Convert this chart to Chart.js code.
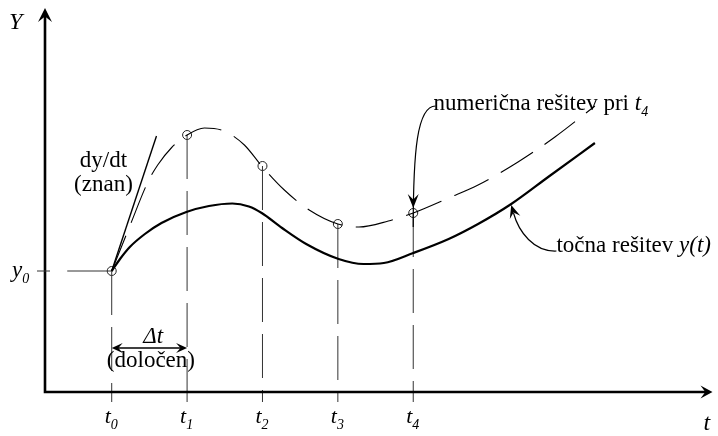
<!DOCTYPE html>
<html>
<head>
<meta charset="utf-8">
<script src="https://cdn.jsdelivr.net/npm/chart.js@4"></script>
<style>
  body { margin: 0; background: #fff; }
  canvas { display: block; }
</style>
</head>
<body>
<canvas id="myChart" width="718" height="436"></canvas>
<script>
// time steps t0..t4 (x in units of Δt)
const tickPos = [0, 1, 2, 3, 4]
const tickSub = ['0', '1', '2', '3', '4']

// numerical solution at the nodes
const nodeY = [12.1, 25.7, 22.6, 16.8, 17.9]

// exact solution y(t)
const exactT = [0, 0.11, 0.24, 0.44, 0.66, 0.99, 1.29, 1.6, 1.82, 1.99, 2.26, 2.58, 3.01, 3.34, 3.61, 4.0, 4.47, 4.86, 5.3, 5.79, 6.41]
const exactY = [12.1, 13.3, 14.5, 15.8, 16.9, 18.0, 18.6, 18.85, 18.55, 17.9, 16.4, 14.8, 13.3, 12.8, 12.9, 13.9, 15.3, 16.8, 18.8, 21.5, 24.9]

// numerical solution curve (dashed)
const numT = [0, 0.24, 0.48, 0.61, 0.79, 1.0, 1.23, 1.49, 1.76, 1.99, 2.29, 2.62, 3.0, 3.28, 3.67, 4.0, 4.47, 4.86, 5.39, 5.88, 6.41]
const numY = [12.1, 16.6, 21.0, 22.7, 24.4, 25.7, 26.4, 26.1, 24.7, 22.6, 20.2, 18.2, 16.8, 16.5, 17.1, 17.9, 19.4, 20.7, 23.0, 25.5, 28.6]

// tangent dy/dt at t0
const tangentT = [0, 0.594]
const tangentY = [12.1, 25.6]

// y0 guide line (t0 back towards the y axis) and bottom of drop lines
const y0LineT = [0, -0.59]
const dropBottom = -1.0

const serif = '"Liberation Serif", "Times New Roman", serif'

function pts(xs, ys) {
    return xs.map((v, i) => ({ x: v, y: ys[i] }))
}

function arrowHead(ctx, tx, ty, ang, len, hw) {
    ctx.save()
    ctx.translate(tx, ty)
    ctx.rotate(ang)
    ctx.beginPath()
    ctx.moveTo(0, 0)
    ctx.lineTo(-len, -hw)
    ctx.lineTo(-len * 0.6, 0)
    ctx.lineTo(-len, hw)
    ctx.closePath()
    ctx.fill()
    ctx.restore()
}

function subText(ctx, base, sub, x, y, size, italicSub) {
    ctx.font = 'italic ' + size + 'px ' + serif
    ctx.fillText(base, x, y)
    const w = ctx.measureText(base).width
    ctx.font = (italicSub ? 'italic ' : '') + Math.round(size * 0.62) + 'px ' + serif
    ctx.fillText(sub, x + w, y + size * 0.25)
    return w + ctx.measureText(sub).width
}

const drawing = {
    id: 'drawing',
    afterDraw(chart) {
        const ctx = chart.ctx
        const sx = chart.scales.x
        const sy = chart.scales.y
        const X = v => sx.getPixelForValue(v)
        const Y = v => sy.getPixelForValue(v)
        const ox = X(sx.min), oy = Y(0)

        ctx.save()
        ctx.fillStyle = '#000'
        ctx.strokeStyle = '#000'

        // axes
        ctx.lineWidth = 2.6
        ctx.beginPath()
        ctx.moveTo(ox - 1.3, oy)
        ctx.lineTo(X(sx.max) - 6, oy)
        ctx.moveTo(ox, oy + 1.3)
        ctx.lineTo(ox, Y(sy.max) + 6)
        ctx.stroke()
        arrowHead(ctx, X(sx.max), oy, 0, 12, 6.5)
        arrowHead(ctx, ox, Y(sy.max), -Math.PI / 2, 14, 7)

        // short y0 mark across the y axis
        ctx.strokeStyle = '#333'
        ctx.lineWidth = 1
        ctx.beginPath()
        ctx.moveTo(ox - 8, Y(nodeY[0]))
        ctx.lineTo(ox + 5, Y(nodeY[0]))
        ctx.stroke()
        ctx.strokeStyle = '#000'

        // axis titles
        ctx.textAlign = 'left'
        ctx.textBaseline = 'alphabetic'
        ctx.font = 'italic 24px ' + serif
        ctx.fillText('Y', 9, Y(sy.max) + 21)
        ctx.fillText('t', X(sx.max) - 9, oy + 38)
        subText(ctx, 'y', '0', 12, Y(nodeY[0]) + 6, 23, true)

        // tick labels
        tickPos.forEach((t, i) => {
            subText(ctx, 't', tickSub[i], X(t) - 7, oy + 31, 22, true)
        })

        // dy/dt (znan)
        ctx.textAlign = 'center'
        ctx.font = '23px ' + serif
        ctx.fillText('dy/dt', X(-0.11), Y(22.5))
        ctx.fillText('(znan)', X(-0.11), Y(20.1))

        // Δt (določen)
        ctx.font = 'italic 23px ' + serif
        ctx.fillText('\u0394t', X(0.55), Y(4.9))
        ctx.font = '23px ' + serif
        ctx.fillText('(določen)', X(0.52), Y(2.5))
        const ay = Y(4.4)
        ctx.lineWidth = 1.3
        ctx.beginPath()
        ctx.moveTo(X(0) + 6, ay)
        ctx.lineTo(X(1) - 6, ay)
        ctx.stroke()
        arrowHead(ctx, X(0), ay, Math.PI, 11, 5)
        arrowHead(ctx, X(1), ay, 0, 11, 5)

        // numerična rešitev pri t4
        ctx.textAlign = 'left'
        ctx.font = '23px ' + serif
        const tx1 = X(4.27), ty1 = Y(28.2)
        ctx.fillText('numerična rešitev pri ', tx1, ty1)
        const w1 = ctx.measureText('numerična rešitev pri ').width
        subText(ctx, 't', '4', tx1 + w1, ty1, 23, true)
        ctx.lineWidth = 1.2
        ctx.beginPath()
        ctx.moveTo(tx1 + 2, ty1 - 4)
        ctx.bezierCurveTo(X(4.05), ty1 - 4, X(4.0), Y(24), X(4.0), Y(nodeY[4]) + 14)
        ctx.stroke()
        arrowHead(ctx, X(4.0), Y(nodeY[4]) - 5, Math.PI / 2, 14, 5.5)

        // točna rešitev y(t)
        const tx2 = X(5.9), ty2 = Y(14.0)
        ctx.font = '23px ' + serif
        ctx.fillText('točna rešitev ', tx2, ty2)
        const w2 = ctx.measureText('točna rešitev ').width
        ctx.font = 'italic 23px ' + serif
        ctx.fillText('y(t)', tx2 + w2, ty2)
        ctx.beginPath()
        ctx.moveTo(tx2, ty2 - 1)
        ctx.bezierCurveTo(X(5.6), ty2, X(5.4), Y(16.0), X(5.33), Y(17.9))
        ctx.stroke()
        arrowHead(ctx, X(5.3), Y(18.7), -Math.PI / 2 - 0.3, 13, 5.5)

        ctx.restore()
    }
}

const dropSets = tickPos.map((t, i) => ({
    data: [{ x: t, y: nodeY[i] }, { x: t, y: dropBottom }],
    borderColor: '#333',
    borderWidth: 1,
    borderDash: [44, 12],
    pointRadius: 0,
    showLine: true,
    clip: false
}))

const data = {
    datasets: [
        {
            data: pts(exactT, exactY),
            borderColor: '#000',
            borderWidth: 2.2,
            pointRadius: 0,
            showLine: true,
            cubicInterpolationMode: 'monotone'
        },
        {
            data: pts(numT, numY),
            borderColor: '#000',
            borderWidth: 1.1,
            borderDash: [38, 14],
            pointRadius: 0,
            showLine: true,
            cubicInterpolationMode: 'monotone'
        },
        {
            data: pts(tangentT, tangentY),
            borderColor: '#000',
            borderWidth: 1.4,
            pointRadius: 0,
            showLine: true
        },
        {
            data: pts(y0LineT, [nodeY[0], nodeY[0]]),
            borderColor: '#333',
            borderWidth: 1,
            pointRadius: 0,
            showLine: true,
            clip: false
        },
        ...dropSets,
        {
            data: pts(tickPos, nodeY),
            borderColor: '#222',
            borderWidth: 1,
            backgroundColor: 'rgba(0,0,0,0)',
            pointRadius: 4.5,
            pointStyle: 'circle',
            showLine: false
        }
    ]
}

const config = {
    type: 'scatter',
    data: data,
    options: {
        responsive: false,
        animation: false,
        events: [],
        layout: {
            padding: { left: 45, right: 3, top: 8, bottom: 44 }
        },
        plugins: {
            legend: { display: false },
            tooltip: { enabled: false }
        },
        scales: {
            x: { type: 'linear', min: -0.885, max: 7.97, display: false },
            y: { type: 'linear', min: 0, max: 38.4, display: false }
        }
    },
    plugins: [drawing]
}

const myChart = new Chart(document.getElementById('myChart'), config)
</script>
</body>
</html>
